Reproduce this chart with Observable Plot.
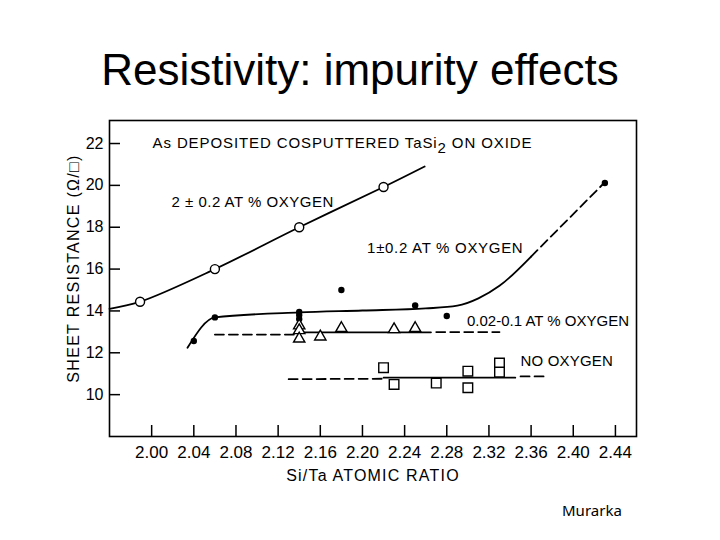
<!DOCTYPE html>
<html><head><meta charset="utf-8">
<script src="https://cdn.jsdelivr.net/npm/d3@7"></script>
<script src="https://cdn.jsdelivr.net/npm/@observablehq/plot@0.6"></script>
<style>
body{margin:0;background:#fff;width:720px;height:540px;position:relative;overflow:hidden}
#title{position:absolute;left:0;top:48px;width:720px;text-align:center;font:44px/44px "Liberation Sans",Arial,sans-serif;color:#000}
#chart{position:absolute;left:0;top:110px}
#caption{position:absolute;left:562px;top:503px;font:15px/15px "Noto Sans",sans-serif;color:#000}
</style></head>
<body>
<div id="title">Resistivity: impurity effects</div>
<div id="chart"></div>
<div id="caption">Murarka</div>
<script>
// axis ticks
const xTicks = [2.00, 2.04, 2.08, 2.12, 2.16, 2.20, 2.24, 2.28, 2.32, 2.36, 2.40, 2.44];
const yTicks = [10, 12, 14, 16, 18, 20, 22];
const xLabel = "Si/Ta ATOMIC RATIO";
const yLabel = "SHEET RESISTANCE (Ω/□)";

// 2 ± 0.2 at% oxygen: open circles + fitted solid curve
const circX = [1.989, 2.06, 2.14, 2.22];
const circY = [14.44, 16.0, 18.0, 19.92];
const fitAX = [1.96, 1.989, 2.06, 2.14, 2.22, 2.259];
const fitAY = [14.1, 14.44, 16.0, 18.0, 19.92, 20.9];

// 1 ± 0.2 at% oxygen: filled dots + solid curve then dashed
const dotX = [2.04, 2.06, 2.14, 2.14, 2.14, 2.18, 2.25, 2.28, 2.43];
const dotY = [12.56, 13.69, 13.95, 13.8, 13.62, 15.0, 14.26, 13.76, 20.11];
const fitBX = [2.034, 2.06, 2.14, 2.20, 2.26, 2.29, 2.31, 2.33, 2.36];
const fitBY = [12.24, 13.69, 13.93, 14.02, 14.12, 14.25, 14.6, 15.2, 16.6];
const fitBDashX = [2.36, 2.43];
const fitBDashY = [16.6, 20.15];

// 0.02-0.1 at% oxygen: open triangles
const triX = [2.14, 2.14, 2.14, 2.16, 2.18, 2.23, 2.25];
const triY = [13.3, 13.07, 12.67, 12.77, 13.17, 13.12, 13.17];
const fitCX = [2.14, 2.265];
const fitCY = [12.98, 12.98];
const fitCDashLX = [2.06, 2.135];
const fitCDashLY = [12.87, 12.87];
const fitCDashRX = [2.27, 2.33];
const fitCDashRY = [12.99, 12.99];

// no oxygen: open squares
const sqX = [2.22, 2.23, 2.27, 2.30, 2.30, 2.33, 2.33];
const sqY = [11.29, 10.49, 10.55, 11.12, 10.33, 11.51, 11.08];
const fitDX = [2.22, 2.345];
const fitDY = [10.81, 10.81];
const fitDDashLX = [2.13, 2.22];
const fitDDashLY = [10.74, 10.76];
const fitDDashRX = [2.35, 2.375];
const fitDDashRY = [10.87, 10.87];

// annotations (data coordinates of text start)
const annText = ["As DEPOSITED COSPUTTERED TaSi₂ ON OXIDE", "2 ± 0.2 AT % OXYGEN", "1±0.2 AT % OXYGEN", "0.02-0.1 AT % OXYGEN", "NO OXYGEN"];
const annX = [2.0008, 2.0188, 2.2044, 2.2992, 2.3499];
const annY = [22.0, 19.2, 16.98, 13.52, 11.59];

const zip = (xs, ys) => xs.map((x, i) => ({x, y: ys[i]}));
const ann = annText.map((t, i) => ({t, x: annX[i], y: annY[i]}));

const W = 720, H = 430, mT = 10, mB = 104, mL = 109, mR = 84;
const fh = H - mT - mB, fw = W - mL - mR, tk = 11;
const solid = {stroke: "black", strokeWidth: 1.8};
const dashed = {stroke: "black", strokeWidth: 1.8, strokeDasharray: "9,5"};

const chart = Plot.plot({
  width: W, height: H,
  marginTop: mT, marginBottom: mB, marginLeft: mL, marginRight: mR,
  x: {domain: [1.96, 2.46]},
  y: {domain: [8, 23.1]},
  style: {fontFamily: "'Liberation Sans', Arial, sans-serif", color: "black", background: "white", overflow: "visible"},
  marks: [
    Plot.frame({stroke: "black", strokeWidth: 1.6}),
    Plot.ruleX(xTicks, {insetTop: fh - tk, stroke: "black", strokeWidth: 1.5}),
    Plot.ruleY(yTicks, {insetRight: fw - tk, stroke: "black", strokeWidth: 1.5}),
    Plot.axisX(xTicks, {tickSize: 0, tickPadding: 9, fontSize: 17, tickFormat: d3.format(".2f"), label: null}),
    Plot.axisY(yTicks, {tickSize: 0, tickPadding: 6, fontSize: 16, label: null}),
    Plot.text([xLabel], {text: d => d, frameAnchor: "bottom", textAnchor: "middle", dy: 39, lineAnchor: "middle", fontSize: 16}),
    Plot.text([yLabel], {text: d => d, frameAnchor: "left", textAnchor: "middle", dx: -36, dy: -10, rotate: -90, lineAnchor: "middle", fontSize: 16}),
    Plot.line(zip(fitAX, fitAY), {x: "x", y: "y", curve: "catmull-rom", ...solid}),
    Plot.line(zip(fitBX, fitBY), {x: "x", y: "y", curve: "monotone-x", ...solid}),
    Plot.line(zip(fitBDashX, fitBDashY), {x: "x", y: "y", ...dashed}),
    Plot.line(zip(fitCX, fitCY), {x: "x", y: "y", ...solid}),
    Plot.line(zip(fitCDashLX, fitCDashLY), {x: "x", y: "y", ...dashed}),
    Plot.line(zip(fitCDashRX, fitCDashRY), {x: "x", y: "y", ...dashed}),
    Plot.line(zip(fitDX, fitDY), {x: "x", y: "y", ...solid}),
    Plot.line(zip(fitDDashLX, fitDDashLY), {x: "x", y: "y", ...dashed}),
    Plot.line(zip(fitDDashRX, fitDDashRY), {x: "x", y: "y", ...dashed}),
    Plot.dot(zip(circX, circY), {x: "x", y: "y", r: 4.5, fill: "white", stroke: "black", strokeWidth: 1.4}),
    Plot.dot(zip(dotX, dotY), {x: "x", y: "y", r: 3.2, fill: "black", stroke: "none"}),
    Plot.dot(zip(triX, triY), {x: "x", y: "y", r: 4.2, symbol: "triangle", fill: "white", stroke: "black", strokeWidth: 1.4}),
    Plot.dot(zip(sqX, sqY), {x: "x", y: "y", r: 5.4, symbol: "square", fill: "white", stroke: "black", strokeWidth: 1.4}),
    Plot.text(ann, {x: "x", y: "y", text: "t", textAnchor: "start", lineAnchor: "middle", fontSize: 15})
  ]
});
document.getElementById("chart").appendChild(chart);

const spacing = new Map([
  [xLabel, "1.2px"], [yLabel, "1.3px"],
  [annText[0], "0.9px"], [annText[1], "0.5px"], [annText[2], "0.7px"], [annText[4], "0.2px"]
]);
d3.select(chart).selectAll("text").each(function() {
  const el = d3.select(this);
  const s = el.text();
  if (spacing.has(s)) el.style("letter-spacing", spacing.get(s));
  if (s.includes("₂")) {
    const [a, b] = s.split("₂");
    el.text(null);
    el.append("tspan").text(a);
    el.append("tspan").attr("dy", 5).text("2");
    el.append("tspan").attr("dy", -5).text(b);
  }
});
</script>
</body></html>
